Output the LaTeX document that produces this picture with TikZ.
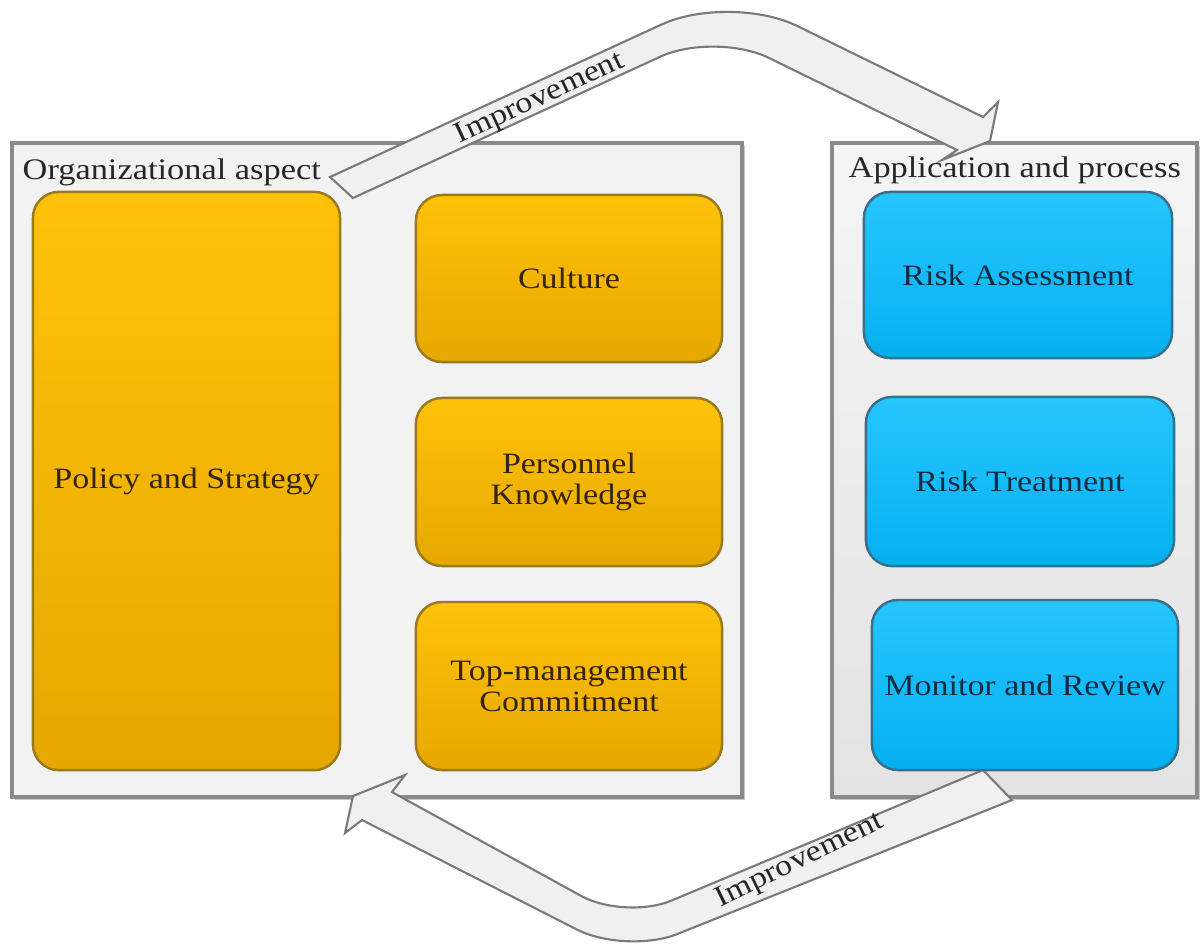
\documentclass[tikz,border=0pt]{standalone}
\usepackage{fontspec}
\setmainfont{Liberation Serif}[FakeStretch=1.15]
\usetikzlibrary{calc}

\definecolor{orangetop}{HTML}{FFC20A}
\definecolor{orangebot}{HTML}{E6A800}
\definecolor{orangeline}{HTML}{9A7A20}
\definecolor{orangetext}{HTML}{33240A}
\definecolor{bluetop}{HTML}{26C6FF}
\definecolor{bluebot}{HTML}{05B0F0}
\definecolor{blueline}{HTML}{3A6F8A}
\definecolor{bluetext}{HTML}{102C42}
\definecolor{panelline}{HTML}{8A8A8A}
\definecolor{bandline}{HTML}{7A7A7A}

\tikzset{
  boxtext/.style={font=\fontsize{8.4}{8.8}\selectfont, align=center, inner sep=0pt},
  orgbox/.style={boxtext, draw=orangeline, line width=0.7pt, rounded corners=0.26cm,
    top color=orangetop, bottom color=orangebot, text=orangetext},
  appbox/.style={boxtext, draw=blueline, line width=0.7pt, rounded corners=0.26cm,
    top color=bluetop, bottom color=bluebot, text=bluetext},
  heading/.style={font=\fontsize{8.5}{9}\selectfont, text=black!85, inner sep=0pt, anchor=west},
  band/.style={draw=bandline, fill=black!6, line width=0.6pt, line join=miter},
  bandlabel/.style={font=\fontsize{8.4}{9}\selectfont, text=black!85, inner sep=0pt}
}

\begin{document}
\begin{tikzpicture}[x=0.01cm, y=-0.01cm]
    \useasboundingbox (0,0) rectangle (1201,947);

    \def\leftpanel{(12,143) rectangle (742,797)}
    \def\rightpanel{(832,143) rectangle (1197,797)}

    % panels with a soft shadow
    \fill[black!22] (15,146) rectangle (745,800);
    \fill[black!22] (835,146) rectangle (1200,800);
    \draw[panelline, line width=0.9pt, fill=black!5] \leftpanel;
    \draw[panelline, line width=0.9pt, top color=black!4, bottom color=black!11] \rightpanel;

    % the two bent arrows
    \coordinate (tu) at (730,-7);
    \coordinate (tl) at (715,31.5);
    \coordinate (bu) at (625,920);
    \coordinate (bl) at (626,954.5);

    \draw[band] (330,177) -- ($(tu)!0.75cm!(330,177)$)
        .. controls ($($(tu)!0.75cm!(330,177)$)!0.55!(tu)$) and ($($(tu)!0.75cm!(983,117)$)!0.55!(tu)$)
        .. ($(tu)!0.75cm!(983,117)$)
        -- (983,117) -- (998,102) -- (990,141) -- (942,160) -- (957,150)
        -- ($(tl)!0.6cm!(957,150)$)
        .. controls ($($(tl)!0.6cm!(957,150)$)!0.55!(tl)$) and ($($(tl)!0.6cm!(353,198)$)!0.55!(tl)$)
        .. ($(tl)!0.6cm!(353,198)$)
        -- (353,198) -- cycle;

    \draw[band] (983,770) -- ($(bu)!0.5cm!(983,770)$)
        .. controls ($($(bu)!0.5cm!(983,770)$)!0.55!(bu)$) and ($($(bu)!0.5cm!(392,792)$)!0.55!(bu)$)
        .. ($(bu)!0.5cm!(392,792)$)
        -- (392,792) -- (405,775) -- (353,796) -- (345,833) -- (362,820)
        -- ($(bl)!0.55cm!(362,820)$)
        .. controls ($($(bl)!0.55cm!(362,820)$)!0.55!(bl)$) and ($($(bl)!0.55cm!(1012,800)$)!0.55!(bl)$)
        .. ($(bl)!0.55cm!(1012,800)$)
        -- (1012,800) -- cycle;

    \node[bandlabel, rotate=25] (upimp) at (540,99) {Improvement};
    \node[bandlabel, rotate=26] (downimp) at (800,861) {Improvement};

    % headings
    \node[heading] (orghead) at (22,172) {Organizational aspect};
    \node[heading] (apphead) at (848,170) {Application and process};

    % organizational aspect
    \node[orgbox, minimum width=3.07cm, minimum height=5.78cm] (policy) at (186.5,481) {Policy and Strategy};
    \node[orgbox, minimum width=3.06cm, minimum height=1.67cm] (culture) at (569,278.5) {Culture};
    \node[orgbox, minimum width=3.06cm, minimum height=1.68cm] (knowledge) at (569,482) {Personnel\\Knowledge};
    \node[orgbox, minimum width=3.06cm, minimum height=1.68cm] (commit) at (569,686) {Top-management\\Commitment};

    % application and process
    \node[appbox, minimum width=3.08cm, minimum height=1.66cm] (assess) at (1018,275) {Risk Assessment};
    \node[appbox, minimum width=3.08cm, minimum height=1.69cm] (treat) at (1020,481.5) {Risk Treatment};
    \node[appbox, minimum width=3.06cm, minimum height=1.70cm] (monitor) at (1025,685) {Monitor and Review};
\end{tikzpicture}
\end{document}
